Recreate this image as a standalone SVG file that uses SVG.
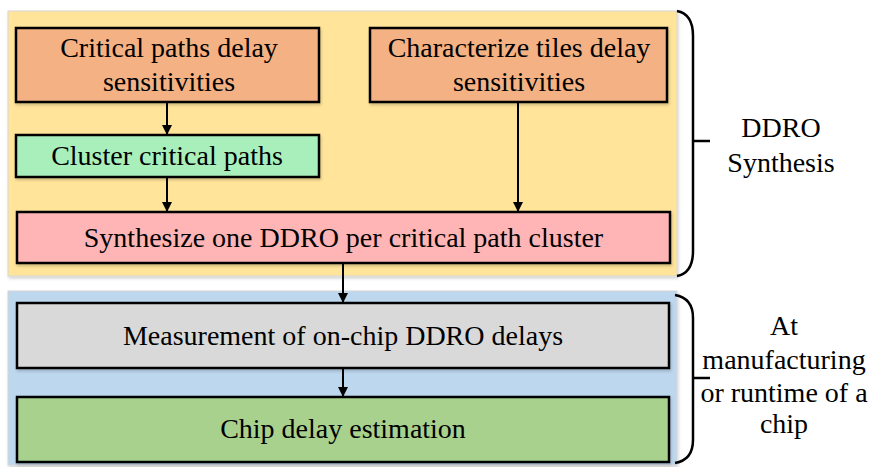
<svg xmlns="http://www.w3.org/2000/svg" width="871" height="467" viewBox="0 0 871 467">
  <defs>
    <filter id="soft" x="-5%" y="-5%" width="110%" height="115%">
      <feDropShadow dx="1" dy="2" stdDeviation="1.5" flood-color="#000" flood-opacity="0.18"/>
    </filter>
    <marker id="arrow" viewBox="0 0 10 10" refX="10" refY="5" markerWidth="10" markerHeight="10" markerUnits="userSpaceOnUse" orient="auto">
      <path d="M0,0 L10,5 L0,10 Z" fill="#000"/>
    </marker>
  </defs>
  <style>
    .panel { stroke: #d6d6d6; stroke-width: 1; filter: url(#soft); }
    .box { stroke: #000; stroke-width: 2.5; filter: url(#soft); }
    .edge { stroke: #000; stroke-width: 2; fill: none; marker-end: url(#arrow); }
    .brace { stroke: #000; stroke-width: 2.5; fill: none; }
  </style>

  <rect width="871" height="467" fill="#fff"/>

  <!-- stage panels -->
  <g id="synthesis-panel">
    <rect class="panel" x="8" y="11" width="669" height="265" fill="#FFE499"/>
  </g>
  <g id="runtime-panel">
    <rect class="panel" x="8" y="291" width="669" height="174" fill="#BDD7EE"/>
  </g>

  <g font-family="'Liberation Serif', 'Times New Roman', Times, serif" font-size="28" text-anchor="middle" fill="#000">
    <!-- process steps -->
    <g id="critical-paths">
      <rect class="box" x="16" y="28" width="303" height="74" fill="#F4B183"/>
      <text x="169" y="57">Critical paths delay</text>
      <text x="169" y="91">sensitivities</text>
    </g>
    <g id="characterize-tiles">
      <rect class="box" x="370" y="28" width="297" height="74" fill="#F4B183"/>
      <text x="519" y="57">Characterize tiles delay</text>
      <text x="519" y="91">sensitivities</text>
    </g>
    <g id="cluster-paths">
      <rect class="box" x="16" y="135" width="303" height="42" fill="#A9EFBB"/>
      <text x="167" y="165">Cluster critical paths</text>
    </g>
    <g id="synthesize-ddro">
      <rect class="box" x="17" y="212" width="653" height="51" fill="#FFB5B5"/>
      <text x="343.5" y="247">Synthesize one DDRO per critical path cluster</text>
    </g>
    <g id="measure-delays">
      <rect class="box" x="17" y="303" width="652" height="65" fill="#D9D9D9"/>
      <text x="343" y="345">Measurement of on-chip DDRO delays</text>
    </g>
    <g id="delay-estimation">
      <rect class="box" x="17" y="397" width="652" height="65" fill="#A9D18E"/>
      <text x="343" y="438">Chip delay estimation</text>
    </g>

    <!-- stage braces and labels -->
    <g id="synthesis-label">
      <path class="brace" d="M677,11 Q693,14 693,36 V251 Q693,273 677,276"/>
      <line class="brace" x1="693" y1="141" x2="710" y2="141"/>
      <text x="781" y="137">DDRO</text>
      <text x="781" y="172">Synthesis</text>
    </g>
    <g id="runtime-label">
      <path class="brace" d="M675,295 Q693,298 693,318 V440 Q693,460 675,463"/>
      <line class="brace" x1="693" y1="378" x2="710" y2="378"/>
      <text x="784" y="335">At</text>
      <text x="784" y="369">manufacturing</text>
      <text x="784" y="402">or runtime of a</text>
      <text x="784" y="433">chip</text>
    </g>
  </g>

  <!-- connectors -->
  <g id="connectors">
    <line class="edge" x1="167" y1="102" x2="167" y2="135"/>
    <line class="edge" x1="167" y1="177" x2="167" y2="212"/>
    <line class="edge" x1="518" y1="102" x2="518" y2="212"/>
    <line class="edge" x1="343" y1="263" x2="343" y2="303"/>
    <line class="edge" x1="343" y1="368" x2="343" y2="397"/>
  </g>
</svg>
